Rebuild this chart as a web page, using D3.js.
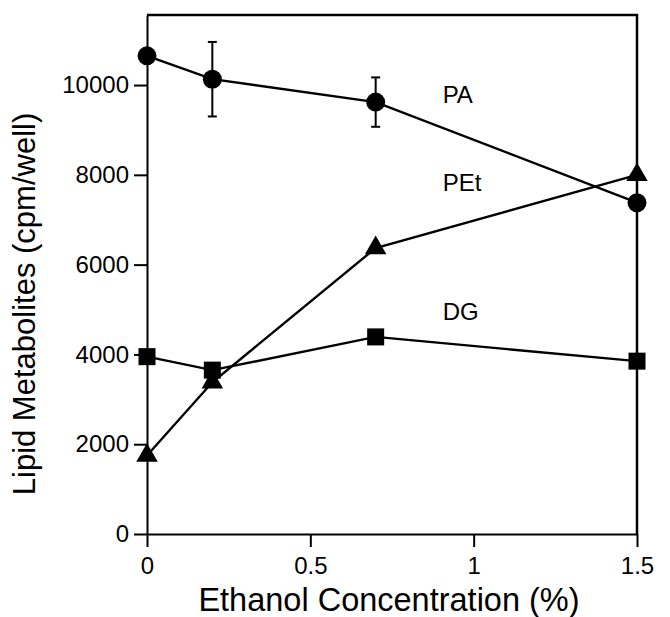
<!DOCTYPE html>
<html>
<head>
<meta charset="utf-8">
<script src="https://cdn.jsdelivr.net/npm/d3@7"></script>
<style>
  body { margin: 0; background: #fff; }
  svg { display: block; }
  .axis text { font-family: "Liberation Sans", Arial, Helvetica, sans-serif; font-size: 24px; fill: #000; }
  .axis path, .axis line { stroke: #000; stroke-width: 2px; }
</style>
</head>
<body>
<script>
// Ethanol concentration (%) on x
const conc = [0, 0.2, 0.7, 1.5];

// series (cpm/well)
const paValues = [10650, 10130, 9620, 7380];
const paErr = [0, 830, 550, 0];
const petValues = [1750, 3380, 6370, 8000];
const dgValues = [3950, 3650, 4390, 3850];

const xTicks = [0, 0.5, 1, 1.5];
const xTickLabels = ["0", "0.5", "1", "1.5"];
const yTicks = [0, 2000, 4000, 6000, 8000, 10000];

const seriesLabels = [
  {name: "PA", x: 0.905, y: 9600},
  {name: "PEt", x: 0.905, y: 7640},
  {name: "DG", x: 0.905, y: 4770}
];

const W = 670, H = 617;
const svg = d3.select("body").append("svg")
  .attr("width", W)
  .attr("height", H);

//Scales
const x = d3.scaleLinear().domain([0, 1.5]).range([147, 637]);
const y = d3.scaleLinear().domain([0, 11560]).range([534, 15]);

//Frame (top and right)
svg.append("path")
  .attr("d", "M" + x(0) + "," + y(11560) + "H" + x(1.5) + "V" + y(0))
  .attr("fill", "none")
  .attr("stroke", "#000")
  .attr("stroke-width", 2.5);

//Axes
svg.append("g")
  .attr("class", "axis")
  .attr("transform", "translate(0," + y(0) + ")")
  .call(d3.axisBottom(x)
    .tickValues(xTicks)
    .tickFormat((d, i) => xTickLabels[i])
    .tickSize(13)
    .tickSizeOuter(0)
    .tickPadding(10));

svg.append("g")
  .attr("class", "axis")
  .attr("transform", "translate(" + x(0) + ",0)")
  .call(d3.axisLeft(y)
    .tickValues(yTicks)
    .tickFormat(d3.format("d"))
    .tickSize(13)
    .tickSizeOuter(0)
    .tickPadding(5));

//Axis titles
svg.append("text")
  .attr("x", 389)
  .attr("y", 611)
  .attr("text-anchor", "middle")
  .attr("font-family", "Liberation Sans, Arial, Helvetica, sans-serif")
  .attr("font-size", "32.5px")
  .text("Ethanol Concentration (%)");

svg.append("text")
  .attr("transform", "translate(35,304) rotate(-90)")
  .attr("text-anchor", "middle")
  .attr("font-family", "Liberation Sans, Arial, Helvetica, sans-serif")
  .attr("font-size", "31px")
  .text("Lipid Metabolites (cpm/well)");

const line = d3.line()
  .x((d, i) => x(conc[i]))
  .y(d => y(d));

const series = [paValues, petValues, dgValues];
series.forEach(vals => {
  svg.append("path")
    .datum(vals)
    .attr("d", line)
    .attr("fill", "none")
    .attr("stroke", "#000")
    .attr("stroke-width", 2.4);
});

//Error bars on PA
const eb = svg.append("g").attr("stroke", "#000").attr("stroke-width", 2);
paValues.forEach((v, i) => {
  if (!paErr[i]) return;
  const cx = x(conc[i]);
  eb.append("line").attr("x1", cx).attr("x2", cx)
    .attr("y1", y(v - paErr[i])).attr("y2", y(v + paErr[i]));
  [v - paErr[i], v + paErr[i]].forEach(e => {
    eb.append("line").attr("x1", cx - 4.5).attr("x2", cx + 4.5)
      .attr("y1", y(e)).attr("y2", y(e));
  });
});

//Markers
svg.append("g").selectAll("circle")
  .data(paValues)
  .enter()
  .append("circle")
    .attr("cx", (d, i) => x(conc[i]))
    .attr("cy", d => y(d))
    .attr("r", 9.5)
    .attr("fill", "#000");

svg.append("g").selectAll("path")
  .data(petValues)
  .enter()
  .append("path")
    .attr("d", d3.symbol(d3.symbolTriangle, 200))
    .attr("transform", (d, i) => "translate(" + x(conc[i]) + "," + y(d) + ")")
    .attr("fill", "#000");

svg.append("g").selectAll("rect")
  .data(dgValues)
  .enter()
  .append("rect")
    .attr("x", (d, i) => x(conc[i]) - 8.5)
    .attr("y", d => y(d) - 8.5)
    .attr("width", 17)
    .attr("height", 17)
    .attr("fill", "#000");

//Series labels
svg.append("g").selectAll("text")
  .data(seriesLabels)
  .enter()
  .append("text")
    .attr("x", d => x(d.x))
    .attr("y", d => y(d.y))
    .attr("font-family", "Liberation Sans, Arial, Helvetica, sans-serif")
    .attr("font-size", "24px")
    .text(d => d.name);
</script>
</body>
</html>
